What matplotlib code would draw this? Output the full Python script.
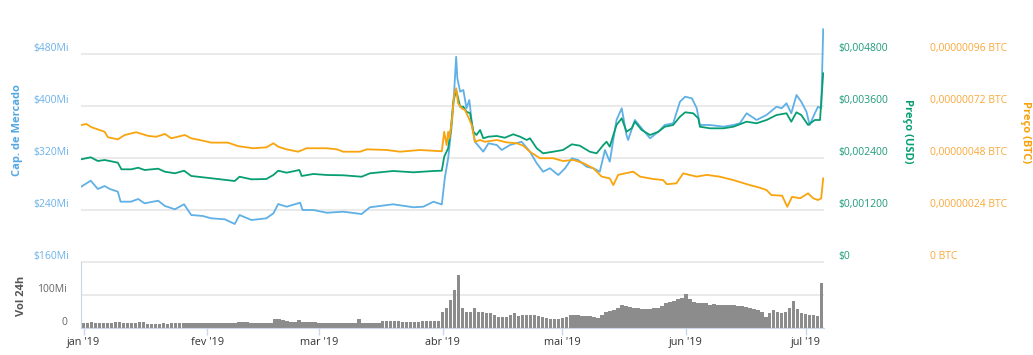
import numpy as np
import pandas as pd
import matplotlib
matplotlib.use("Agg")
import matplotlib.pyplot as plt

plt.rcParams['font.family'] = ['Open Sans', 'DejaVu Sans']
plt.rcParams['ytick.alignment'] = 'bottom'

# ---------------- data ----------------
start_date = pd.Timestamp('2019-01-01')

# Market cap (millions USD) - day offsets from 2019-01-01
mcap_days = [-0.6, 1.8, 3.6, 5.3, 6.6, 8.6, 9.3, 11.9, 13.7, 15.3,
             18.7, 20.4, 22.9, 25.2, 27.0, 29.9, 32.0, 35.4, 37.9, 39.1,
             42.1, 45.8, 47.6, 48.8, 50.9, 54.3, 54.9, 57.6, 61.0, 65.1,
             69.7, 71.8, 77.6, 82.7, 85.2, 87.7, 89.8, 90.6, 91.4, 92.3,
             92.9, 93.4, 93.7, 94.4, 95.2, 96.0, 96.7, 97.3, 98.1, 100.2,
             101.5, 103.6, 104.8, 106.9, 109.8, 111.9, 113.6, 115.2, 116.9, 119.0,
             120.7, 122.4, 124.0, 126.1, 127.8, 129.4, 130.7, 131.9, 133.6, 134.9,
             136.1, 136.5, 138.2, 139.9, 142.0, 144.1, 145.7, 147.8, 149.5, 150.8,
             152.5, 153.7, 154.5, 157.0, 160.4, 162.9, 164.5, 166.2, 168.7, 171.2,
             173.7, 175.0, 176.2, 177.4, 178.7, 179.9, 181.2, 182.0, 183.3, 184.1,
             184.9, 185.4]
mcap_values = [275.8, 285.1, 272.3, 276.9, 272.3, 268.2, 252.8, 252.8, 256.9, 250.3,
               254.3, 246.2, 241.1, 248.8, 232.3, 230.8, 227.2, 225.7, 218.5, 232.3,
               224.6, 227.2, 234.9, 249.2, 245.1, 251.2, 240.0, 240.0, 235.8, 237.4,
               233.8, 244.2, 248.8, 244.2, 245.1, 252.8, 248.5, 291.2, 319.5, 370.8,
               422.0, 475.8, 442.6, 422.0, 424.6, 396.5, 409.2, 375.8, 345.1, 329.7,
               342.6, 340.0, 332.3, 340.0, 345.1, 329.7, 311.8, 298.9, 304.2, 293.8,
               304.2, 319.5, 316.9, 306.6, 304.2, 298.9, 332.3, 314.3, 378.5, 396.5,
               355.4, 347.7, 378.5, 365.7, 350.3, 360.5, 370.8, 373.4, 406.6, 414.3,
               411.8, 396.5, 370.8, 370.8, 368.2, 370.8, 373.4, 388.8, 378.5, 386.2,
               398.9, 396.5, 404.2, 388.8, 416.9, 406.6, 391.2, 370.8, 388.8, 398.9,
               396.5, 518.0]

# Price in USD
usd_days = [-0.6, 1.8, 3.6, 5.3, 8.6, 9.5, 12.0, 13.7, 15.3, 18.7,
            20.4, 22.9, 25.2, 27.0, 29.9, 33.7, 37.9, 39.1, 42.1, 45.8,
            47.6, 48.8, 50.9, 54.1, 54.7, 57.6, 61.0, 65.1, 69.7, 71.8,
            77.6, 82.7, 87.7, 89.8, 90.4, 91.4, 92.0, 92.7, 93.4, 94.4,
            95.2, 96.0, 96.9, 97.7, 98.5, 99.4, 100.2, 101.5, 103.6, 105.6,
            107.7, 109.4, 111.1, 111.9, 113.6, 115.2, 117.7, 120.2, 122.4, 124.4,
            126.9, 128.6, 130.3, 131.1, 131.9, 132.8, 133.6, 134.9, 136.1, 137.4,
            138.2, 139.9, 142.0, 144.1, 145.7, 147.8, 149.5, 150.8, 152.8, 154.1,
            154.5, 157.0, 160.4, 162.9, 166.2, 168.7, 171.2, 173.7, 176.2, 177.4,
            178.7, 179.9, 181.6, 183.3, 184.6, 185.4]
usd_values = [0.002370, 0.002416, 0.002331, 0.002354, 0.002292, 0.002139, 0.002139, 0.002176, 0.002123, 0.002153,
              0.002084, 0.002047, 0.002107, 0.001985, 0.001955, 0.001915, 0.001869, 0.001968, 0.001908, 0.001915,
              0.002008, 0.002107, 0.002061, 0.002123, 0.001985, 0.002031, 0.002008, 0.002001, 0.001968, 0.002047,
              0.002100, 0.002070, 0.002100, 0.002107, 0.002430, 0.002624, 0.003007, 0.003699, 0.003969, 0.003584,
              0.003584, 0.003468, 0.003432, 0.003007, 0.002931, 0.003046, 0.002855, 0.002892, 0.002908, 0.002868,
              0.002947, 0.002892, 0.002815, 0.002855, 0.002624, 0.002508, 0.002545, 0.002585, 0.002716, 0.002684,
              0.002545, 0.002508, 0.002700, 0.002776, 0.002661, 0.002931, 0.003162, 0.003316, 0.003007, 0.003085,
              0.003238, 0.003046, 0.002931, 0.003007, 0.003122, 0.003162, 0.003353, 0.003455, 0.003432, 0.003316,
              0.003122, 0.003085, 0.003085, 0.003122, 0.003238, 0.003201, 0.003277, 0.003392, 0.003432, 0.003238,
              0.003455, 0.003392, 0.003162, 0.003277, 0.003277, 0.004355]

# Price in BTC (satoshi, 1e-8 BTC)
btc_days = [-0.6, 0.7, 2.0, 3.6, 5.3, 6.1, 8.6, 10.3, 13.2, 16.2,
            18.2, 20.4, 22.0, 25.4, 27.0, 29.9, 32.0, 36.2, 38.7, 42.5,
            45.8, 47.6, 48.8, 50.9, 53.8, 55.9, 61.0, 63.5, 65.1, 69.3,
            71.0, 76.0, 79.3, 84.3, 89.8, 90.4, 91.0, 91.4, 91.7, 92.3,
            92.9, 93.4, 93.9, 94.8, 95.6, 96.4, 97.3, 98.1, 99.4, 100.6,
            103.6, 106.1, 108.6, 110.2, 111.9, 114.4, 117.7, 120.2, 122.8, 125.3,
            127.8, 129.9, 131.9, 132.8, 134.0, 135.7, 137.8, 139.5, 142.8, 145.3,
            146.2, 148.6, 150.3, 153.7, 156.2, 159.4, 162.9, 167.0, 169.5, 171.2,
            172.4, 175.1, 176.4, 177.6, 179.6, 181.6, 182.9, 184.1, 184.9, 185.4]
btc_sat_values = [63.2, 63.7, 62.2, 61.2, 60.1, 57.6, 56.6, 58.6, 59.9, 58.2,
                  57.8, 59.1, 57.1, 58.6, 57.1, 56.0, 55.1, 55.1, 53.5, 52.5,
                  52.9, 54.8, 53.2, 52.0, 50.9, 52.5, 52.5, 52.0, 50.9, 50.9,
                  52.0, 51.7, 50.9, 51.7, 51.1, 60.1, 54.0, 60.1, 57.1, 64.8,
                  77.1, 80.2, 73.2, 70.9, 70.2, 67.1, 63.2, 55.5, 56.3, 55.5,
                  56.3, 55.2, 54.8, 53.7, 50.9, 47.9, 47.9, 46.6, 47.1, 45.6,
                  43.2, 39.4, 38.6, 35.5, 40.2, 40.9, 41.7, 39.4, 38.3, 37.8,
                  35.9, 36.3, 40.9, 39.4, 40.2, 39.4, 37.8, 35.5, 34.3, 33.2,
                  30.9, 30.6, 25.5, 30.1, 29.4, 31.7, 29.4, 28.6, 29.4, 38.6]

# 24h volume (millions USD), one bar per day from 2019-01-01
volume_values = [16, 16, 17, 16, 16, 15, 16, 16, 19, 19,
                 15, 15, 15, 15, 18, 18, 13, 13, 13, 13,
                 14, 13, 16, 16, 16, 16, 14, 14, 14, 14,
                 14, 14, 14, 15, 15, 15, 15, 15, 15, 18,
                 18, 17, 15, 15, 15, 15, 15, 16, 26, 27,
                 25, 22, 18, 18, 24, 18, 18, 17, 17, 16,
                 16, 16, 16, 16, 16, 16, 16, 16, 16, 26,
                 14, 14, 14, 14, 14, 20, 20, 20, 20, 20,
                 17, 17, 17, 17, 17, 21, 21, 21, 21, 22,
                 48, 62, 85, 115, 160, 60, 48, 50, 62, 50,
                 48, 46, 44, 40, 33, 33, 34, 40, 44, 36,
                 38, 38, 39, 39, 36, 32, 30, 28, 26, 28,
                 30, 34, 38, 40, 38, 37, 37, 37, 34, 30,
                 38, 48, 52, 56, 60, 71, 68, 64, 62, 61,
                 58, 57, 57, 60, 61, 66, 77, 79, 81, 88,
                 91, 102, 88, 79, 77, 77, 75, 71, 72, 71,
                 71, 70, 69, 69, 67, 66, 64, 62, 59, 55,
                 50, 33, 46, 56, 48, 44, 50, 60, 81, 59,
                 44, 42, 40, 38, 35, 137]

month_labels = ["jan '19", "fev '19", "mar '19", "abr '19", "mai '19", "jun '19", "jul '19"]
mcap_ticks = [160, 240, 320, 400, 480]
usd_ticks = [0, 0.0012, 0.0024, 0.0036, 0.0048]
usd_tick_labels = ["$0", "$0,001200", "$0,002400", "$0,003600", "$0,004800"]
btc_ticks = [0, 24, 48, 72, 96]
btc_tick_labels = ["0 BTC", "0,00000024 BTC", "0,00000048 BTC", "0,00000072 BTC", "0,00000096 BTC"]

# ---------------- style ----------------
C_BLUE = '#5fb0e6'
C_BLUE_TXT = '#6cb2e8'
C_GREEN = '#089e73'
C_GREEN_TXT = '#1f9a7a'
C_ORANGE = '#f9a40c'
C_ORANGE_TXT = '#f9a83a'
C_GRID = '#e6e6e6'
C_AXIS = '#ccd6eb'

def to_dates(d):
    return start_date + pd.to_timedelta(np.asarray(d, dtype=float), unit='D')

W, H = 1033, 355
fig = plt.figure(figsize=(W / 100, H / 100), dpi=100)
L, R = 81, 824
ax = fig.add_axes([L / W, 1 - 262 / H, (R - L) / W, (262 - 28) / H])
axv = fig.add_axes([L / W, 1 - 328 / H, (R - L) / W, (328 - 262) / H])

xmin = start_date + pd.Timedelta(days=-0.63)
xmax = start_date + pd.Timedelta(days=185.6)

# main: market cap
ax.plot(to_dates(mcap_days), mcap_values, color=C_BLUE, lw=1.3, solid_joinstyle='round')
ax.set_ylim(160, 520)
ax.set_xlim(xmin, xmax)
ax.set_yticks(mcap_ticks, [f"${v}Mi" for v in mcap_ticks])
ax.tick_params(axis='y', length=0, pad=8.5, labelsize=7.5, labelcolor=C_BLUE_TXT)
ax.tick_params(axis='x', bottom=False, labelbottom=False)
ax.grid(axis='y', color=C_GRID, lw=1.2)
ax.set_axisbelow(True)
for s in ax.spines.values():
    s.set_visible(False)

ax_usd = ax.twinx()
ax_usd.plot(to_dates(usd_days), usd_values, color=C_GREEN, lw=1.3, solid_joinstyle='round')
ax_usd.set_ylim(0, 0.0054)
ax_usd.set_yticks(usd_ticks, usd_tick_labels)
ax_usd.tick_params(axis='y', length=0, pad=10, labelsize=7.5, labelcolor=C_GREEN_TXT)
for s in ax_usd.spines.values():
    s.set_visible(False)

ax_btc = ax.twinx()
ax_btc.plot(to_dates(btc_days), btc_sat_values, color=C_ORANGE, lw=1.3, solid_joinstyle='round')
ax_btc.set_ylim(0, 108)
ax_btc.set_yticks(btc_ticks, btc_tick_labels)
ax_btc.tick_params(axis='y', length=0, pad=76, labelsize=7.5, labelcolor=C_ORANGE_TXT)
for s in ax_btc.spines.values():
    s.set_visible(False)
ax_btc.set_xlim(xmin, xmax)

# volume panel
vol_dates = to_dates(np.arange(len(volume_values)))
axv.bar(vol_dates, volume_values, width=0.88, color='#8c8c8c', linewidth=0)
axv.set_xlim(xmin, xmax)
axv.set_ylim(0, 200)
axv.set_yticks([0, 100, 200], ['0', '100Mi', ''])
axv.tick_params(axis='y', length=0, pad=10, labelsize=7.5, labelcolor='#666666')
axv.grid(axis='y', color=C_GRID, lw=1.2)
axv.set_axisbelow(True)
month_starts = pd.date_range('2019-01-01', '2019-07-01', freq='MS')
axv.set_xticks(month_starts, month_labels)
axv.tick_params(axis='x', length=5, width=1, color=C_AXIS, pad=1.5,
                labelsize=7.8, labelcolor='#333333')
for side in ['top', 'right']:
    axv.spines[side].set_visible(False)
axv.spines['left'].set_color(C_AXIS)
axv.spines['bottom'].set_color(C_AXIS)

# axis titles
fig.text(18 / W, 1 - 130 / H, 'Cap. de Mercado', rotation=90, ha='center', va='center',
         fontsize=8, fontweight='bold', color='#55a7e2')
fig.text(907 / W, 1 - 131 / H, 'Preço (USD)', rotation=270, ha='center', va='center',
         fontsize=8, fontweight='bold', color=C_GREEN)
fig.text(1026 / W, 1 - 132 / H, 'Preço (BTC)', rotation=270, ha='center', va='center',
         fontsize=8, fontweight='bold', color='#f9a10a')
fig.text(21 / W, 1 - 296 / H, 'Vol 24h', rotation=90, ha='center', va='center',
         fontsize=8, fontweight='bold', color='#555555')

fig.savefig('out.png', dpi=100)
